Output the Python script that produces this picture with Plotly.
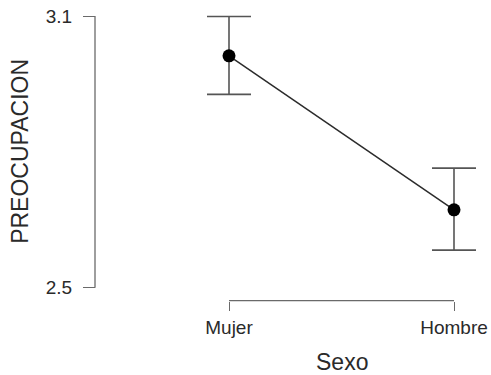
import plotly.graph_objects as go

categories = ["Mujer", "Hombre"]
means = [3.012, 2.672]
ci_upper = [3.099, 2.764]
ci_lower = [2.927, 2.583]
y_ticks = [2.5, 3.1]
y_tick_labels = ["2.5", "3.1"]
x_title = "Sexo"
y_title = "PREOCUPACION"

W, H = 491, 375
err_plus = [u - m for u, m in zip(ci_upper, means)]
err_minus = [m - l for m, l in zip(means, ci_lower)]

# layout geometry (pixels in the 491x375 page)
y_axis_px = 95          # x pixel of the y-axis line
x_axis_px = 300.7       # y pixel of the x-axis bracket
first_cat_px, last_cat_px = 229, 454
top_tick_px, bottom_tick_px = 16, 287.7

y_axis_pos = y_axis_px / W
x_axis_pos = (H - x_axis_px) / H

# x range so that categories land on their pixel positions over a domain [y_axis_pos, 1]
px_per_cat = (last_cat_px - first_cat_px) / (len(categories) - 1)
x_range = [-(first_cat_px - y_axis_px) / px_per_cat,
           (len(categories) - 1) + (W - last_cat_px) / px_per_cat]
# y range over the whole height [0, 1] of the page
px_per_unit = (bottom_tick_px - top_tick_px) / (max(y_ticks) - min(y_ticks))
y_range = [min(y_ticks) - (H - bottom_tick_px) / px_per_unit,
           max(y_ticks) + top_tick_px / px_per_unit]

axis_color = "#6a6a6a"
text_color = "#2a2a2a"
font_family = "Liberation Sans, Arial, sans-serif"

fig = go.Figure()
fig.add_trace(go.Scatter(
    x=categories, y=means, mode="lines+markers",
    line=dict(color="#2b2b2b", width=1.5),
    marker=dict(color="black", size=13),
    error_y=dict(type="data", symmetric=False, array=err_plus, arrayminus=err_minus,
                 color="#555555", thickness=1.6, width=22),
    cliponaxis=False, showlegend=False, hoverinfo="skip",
))

fig.update_layout(
    width=W, height=H,
    margin=dict(l=0, r=0, t=0, b=0, autoexpand=False),
    paper_bgcolor="white", plot_bgcolor="white",
    font=dict(family=font_family, color=text_color),
    xaxis=dict(
        type="category", range=x_range,
        domain=[y_axis_pos, 1],
        anchor="free", position=x_axis_pos,
        showgrid=False, zeroline=False, showline=False,
        ticks="outside", ticklen=9, tickwidth=1.3, tickcolor=axis_color,
        tickfont=dict(size=19, family=font_family, color=text_color),
        automargin=False,
    ),
    yaxis=dict(
        range=y_range, domain=[0, 1],
        anchor="free", position=y_axis_pos,
        tickvals=y_ticks, ticktext=y_tick_labels,
        showgrid=False, zeroline=False, showline=False,
        ticks="outside", ticklen=12, tickwidth=1.3, tickcolor=axis_color,
        ticklabelstandoff=7,
        tickfont=dict(size=19, family=font_family, color=text_color),
        automargin=False,
    ),
    shapes=[
        dict(type="line", xref="x", yref="paper",
             x0=categories[0], x1=categories[-1], y0=x_axis_pos, y1=x_axis_pos,
             line=dict(color=axis_color, width=1.3)),
        dict(type="line", xref="paper", yref="y",
             x0=y_axis_pos, x1=y_axis_pos, y0=min(y_ticks), y1=max(y_ticks),
             line=dict(color=axis_color, width=1.3)),
    ],
    annotations=[
        dict(text=x_title, xref="paper", yref="paper",
             x=(first_cat_px + last_cat_px) / 2 / W, y=1 - 362 / H,
             xanchor="center", yanchor="middle", showarrow=False,
             font=dict(size=23, family=font_family, color=text_color)),
        dict(text=y_title, xref="paper", yref="paper",
             x=20 / W, y=1 - (top_tick_px + bottom_tick_px) / 2 / H,
             xanchor="center", yanchor="middle", textangle=-90, showarrow=False,
             font=dict(size=23, family=font_family, color=text_color)),
    ],
)

fig.write_html("out.html")
